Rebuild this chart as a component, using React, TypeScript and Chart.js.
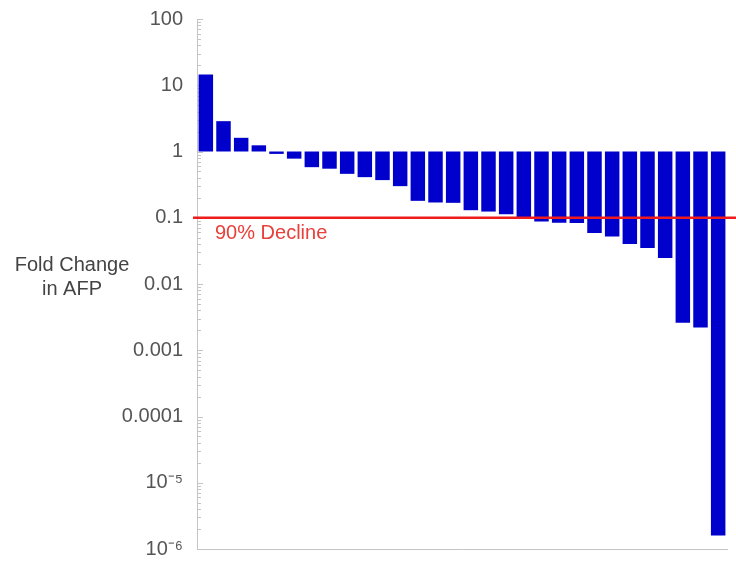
import React, { useEffect, useRef } from "react";
import { Chart, registerables } from "chart.js";

Chart.register(...registerables);

const patients = [
  "P1", "P2", "P3", "P4", "P5", "P6", "P7", "P8", "P9", "P10",
  "P11", "P12", "P13", "P14", "P15", "P16", "P17", "P18", "P19", "P20",
  "P21", "P22", "P23", "P24", "P25", "P26", "P27", "P28", "P29", "P30",
];
const foldChange = [
  14.5, 2.87, 1.61, 1.24, 0.92, 0.78, 0.58, 0.55, 0.46, 0.41,
  0.37, 0.3, 0.18, 0.17, 0.168, 0.13, 0.124, 0.113, 0.102, 0.088,
  0.084, 0.083, 0.059, 0.052, 0.04, 0.035, 0.0246, 0.0026, 0.0022, 0.0000016,
];
const baseline = 1;
const yTickValues = [100, 10, 1, 0.1, 0.01, 0.001, 0.0001, 1e-5, 1e-6];
const yTickLabels = ["100", "10", "1", "0.1", "0.01", "0.001", "0.0001", "10⁻⁵", "10⁻⁶"];
const minorMultipliers = [2, 3, 4, 5, 6, 7, 8, 9];
const declineThreshold = 0.1;
const declineLabel = "90% Decline";
const axisTitleLines = ["Fold Change", "in AFP"];

const FONT = "'Liberation Sans', Arial, Helvetica, sans-serif";

export default function App() {
  const canvasRef = useRef<HTMLCanvasElement | null>(null);

  useEffect(() => {
    const canvas = canvasRef.current;
    if (!canvas) return;

    const decorPlugin = {
      id: "decor",
      beforeDatasetsDraw(chart: any) {
        const ctx = chart.ctx;
        const y = chart.scales.y;
        const x0 = chart.chartArea.left;
        ctx.save();
        ctx.strokeStyle = "#c4c4c4";
        ctx.lineWidth = 1;
        yTickValues.forEach((v) => {
          const py = Math.round(y.getPixelForValue(v)) + 0.5;
          ctx.beginPath();
          ctx.moveTo(x0, py);
          ctx.lineTo(x0 + 6, py);
          ctx.stroke();
          if (v < 100) {
            minorMultipliers.forEach((m) => {
              const pm = Math.round(y.getPixelForValue(v * m)) + 0.5;
              ctx.beginPath();
              ctx.moveTo(x0, pm);
              ctx.lineTo(x0 + 4, pm);
              ctx.stroke();
            });
          }
        });
        ctx.restore();
      },
      afterDatasetsDraw(chart: any) {
        const ctx = chart.ctx;
        const y = chart.scales.y;
        const py = y.getPixelForValue(declineThreshold);
        ctx.save();
        ctx.strokeStyle = "#ee1c1c";
        ctx.lineWidth = 2.5;
        ctx.beginPath();
        ctx.moveTo(chart.chartArea.left - 4, py);
        ctx.lineTo(chart.width, py);
        ctx.stroke();

        ctx.fillStyle = "#e8403a";
        ctx.font = `20px ${FONT}`;
        ctx.textAlign = "left";
        ctx.textBaseline = "alphabetic";
        ctx.fillText(declineLabel, chart.chartArea.left + 18, py + 21);

        ctx.fillStyle = "#444444";
        ctx.textAlign = "center";
        ctx.fillText(axisTitleLines[0], 72, 271);
        ctx.fillText(axisTitleLines[1], 72, 295);
        ctx.restore();
      },
    };

    const chart = new Chart(canvas, {
      type: "bar",
      data: {
        labels: patients,
        datasets: [
          {
            data: foldChange.map((v) => [baseline, v]) as any,
            backgroundColor: "#0000cc",
            borderWidth: 0,
            barPercentage: 0.82,
            categoryPercentage: 1,
          },
        ],
      },
      options: {
        responsive: false,
        animation: false,
        devicePixelRatio: 1,
        layout: { padding: { top: 19, right: 9, bottom: 0, left: 0 } },
        plugins: {
          legend: { display: false },
          tooltip: { enabled: false },
        },
        scales: {
          x: {
            grid: { display: false, drawTicks: false },
            ticks: { display: false },
            border: { display: true, color: "#c4c4c4", width: 1 },
            afterFit: (scale: any) => {
              scale.height = 12;
              scale.paddingLeft = 0;
              scale.paddingRight = 0;
            },
          },
          y: {
            type: "logarithmic",
            min: 1e-6,
            max: 100,
            grid: { display: false, drawTicks: false },
            border: { display: true, color: "#c4c4c4", width: 1 },
            afterBuildTicks: (scale: any) => {
              scale.ticks = yTickValues.map((v) => ({ value: v, major: true }));
            },
            ticks: {
              autoSkip: false,
              padding: 14,
              color: "#555555",
              font: { family: FONT, size: 20 },
              callback: (value: any) => {
                const i = yTickValues.findIndex(
                  (t) => Math.abs(Math.log10(t) - Math.log10(Number(value))) < 1e-6
                );
                return i >= 0 ? yTickLabels[i] : "";
              },
            },
            afterFit: (scale: any) => {
              scale.width = 197;
              scale.paddingTop = 0;
              scale.paddingBottom = 0;
            },
          },
        },
      },
      plugins: [decorPlugin],
    });

    return () => {
      chart.destroy();
    };
  }, []);

  return (
    <div style={{ position: "fixed", left: 0, top: 0, width: 736, height: 561, background: "#fff" }}>
      <canvas ref={canvasRef} width={736} height={561} style={{ display: "block" }} />
    </div>
  );
}
